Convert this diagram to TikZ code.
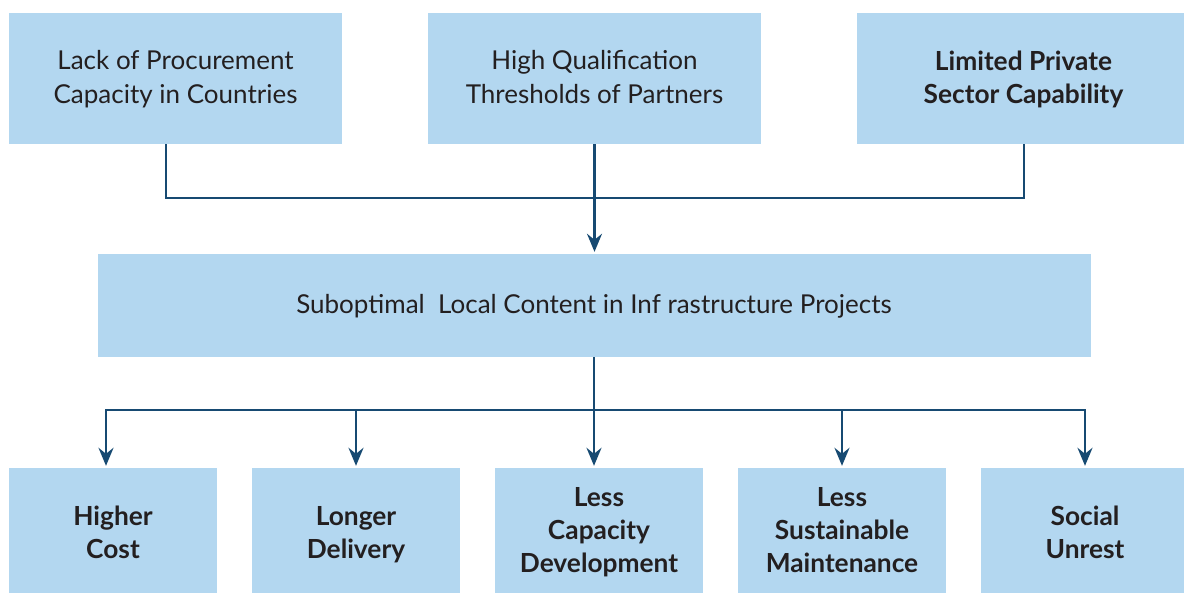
\documentclass[tikz,border=0pt]{standalone}
\usepackage{fontspec}
\setmainfont{Lato}
\usetikzlibrary{arrows.meta,calc}
\definecolor{boxfill}{HTML}{B3D7F0}
\definecolor{linec}{HTML}{174A72}
\definecolor{txt}{HTML}{231F20}
\begin{document}
\begin{tikzpicture}[x=1pt,y=-1pt,
  box/.style={fill=boxfill, draw=none, text=txt, align=center, inner sep=0pt,
    font=\fontsize{26}{34}\selectfont, text depth=0pt},
  boldbox/.style={box, font=\fontsize{26.3}{33}\selectfont\bfseries},
  topbox/.style={minimum width=333pt, minimum height=131pt, text height=50.5pt},
  botbox/.style={minimum width=208pt, minimum height=131pt, text height=50.2pt},
  threeline/.style={text height=78.2pt},
  conn/.style={draw=linec, line width=2.3pt, line join=miter},
  arr/.style={conn, -{Stealth[length=18pt,width=15pt,inset=6pt]}, shorten >=2pt}]
\useasboundingbox (0,0) rectangle (1184,592);
\fill[white] (0,0) rectangle (1184,592);
\begin{scope}
\clip (0,0) rectangle (1184,592);
% top row
\node[box, topbox] (t1) at (175.5,78.5) {Lack of Procurement\\Capacity in Countries};
\node[box, topbox] (t2) at (594.5,78.5) {High Qualification\\Thresholds of Partners};
\node[boldbox, topbox] (t3) at (1023.5,78.5) {Limited Private\\Sector Capability};
% middle
\node[box, minimum width=993pt, minimum height=103pt, text height=16.2pt] (mid) at (594,305.5)
  {Suboptimal\ \ Local Content in Inf rastructure Projects};
% bottom row
\node[boldbox, botbox] (b1) at (113,533.5) {Higher\\Cost};
\node[boldbox, botbox] (b2) at (356,533.5) {Longer\\Delivery};
\node[boldbox, botbox, threeline] (b3) at (599,533.5) {Less\\Capacity\\Development};
\node[boldbox, botbox, threeline] (b4) at (842,533.5) {Less\\Sustainable\\Maintenance};
\node[boldbox, botbox] (b5) at (1085,533.5) {Social\\Unrest};
\end{scope}
% connectors top
\coordinate (j1) at (166,198);
\coordinate (j3) at (1024,198);
\draw[conn] (t1.south -| j1) -- (j1) -- (j3) -- (t3.south -| j3);
\draw[arr] (t2.south) -- (mid.north -| t2.south);
% connectors bottom
\coordinate (hl) at (106,410);
\coordinate (hr) at (1085,410);
\coordinate (hm) at (594,410);
\draw[conn] (mid.south) -- (hm);
\draw[arr] (hm) -- (hl) -- (hl |- b1.north);
\draw[arr] (hm) -- (hr) -- (hr |- b5.north);
\draw[arr] (hm) -- (hm |- b3.north);
\draw[arr] (b2.north |- hm) -- (b2.north);
\draw[arr] (b4.north |- hm) -- (b4.north);
\end{tikzpicture}
\end{document}
